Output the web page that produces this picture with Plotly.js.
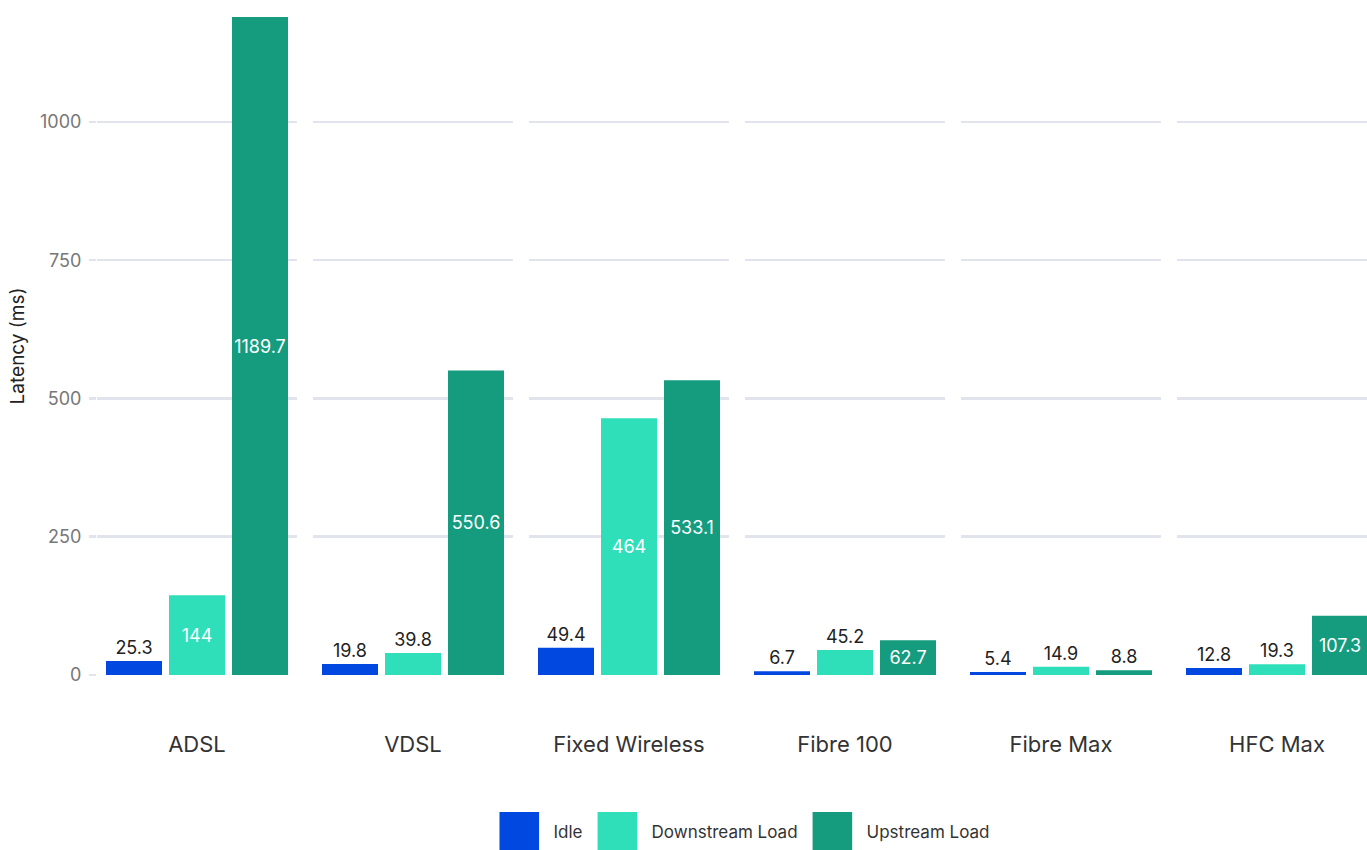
<!DOCTYPE html>
<html>
<head>
<meta charset="utf-8">
<script src="https://cdn.plot.ly/plotly-3.0.1.min.js"></script>
<style>html,body{margin:0;padding:0;background:#fff;}#chart{width:1367px;height:850px;}</style>
</head>
<body>
<div id="chart"></div>
<script>
const categories = ['ADSL', 'VDSL', 'Fixed Wireless', 'Fibre 100', 'Fibre Max', 'HFC Max'];
const seriesNames = ['Idle', 'Downstream Load', 'Upstream Load'];
const idle = [25.3, 19.8, 49.4, 6.7, 5.4, 12.8];
const downstream = [144, 39.8, 464, 45.2, 14.9, 19.3];
const upstream = [1189.7, 550.6, 533.1, 62.7, 8.8, 107.3];
const yTicks = [0, 250, 500, 750, 1000];
const yMax = 1189.7;

const seriesValues = [idle, downstream, upstream];
const seriesColors = ['#0048E0', '#2EDFBA', '#159C7E'];
const FONT = 'Inter, "Noto Sans", Roboto, sans-serif';

const W = 1367, H = 850;
const margin = {l: 97, r: 0, t: 17, b: 175};
const plotW = W - margin.l - margin.r;
const facetW = 200, facetStep = 216;

const traces = [];
const layout = {
  width: W, height: H,
  margin: margin,
  paper_bgcolor: '#ffffff', plot_bgcolor: '#ffffff',
  barmode: 'group', bargap: 0.055, bargroupgap: 0.111,
  font: {family: FONT, color: '#333'},
  showlegend: true,
  legend: {
    orientation: 'h', xref: 'container', yref: 'container',
    x: 0.544, xanchor: 'center', y: 0.021, yanchor: 'middle',
    font: {size: 17, color: '#333', family: FONT},
    bgcolor: 'rgba(0,0,0,0)',
    itemwidth: 30, traceorder: 'normal', itemclick: false, itemdoubleclick: false
  },
  yaxis: {
    range: [0, yMax], tickvals: yTicks, showgrid: true, gridcolor: '#E1E4EC', gridwidth: 2.5,
    zeroline: false, showline: false, ticks: 'outside', ticklen: 7, tickcolor: '#E1E4EC', tickwidth: 2.5,
    tickfont: {size: 18, color: '#777', family: FONT},
    ticklabelstandoff: 4,
    title: {text: 'Latency (ms)', font: {size: 19, color: '#222', family: FONT}, standoff: 10},
    anchor: 'x', fixedrange: true
  }
};

categories.forEach((cat, k) => {
  const axName = k === 0 ? 'x' : 'x' + (k + 1);
  const layoutKey = k === 0 ? 'xaxis' : 'xaxis' + (k + 1);
  const startPx = k * facetStep;
  let endPx = startPx + facetW;
  let rangeEnd = 0.5;
  if (endPx > plotW) {
    rangeEnd = 0.5 - (endPx - plotW) / facetW;
    endPx = plotW;
  }
  layout[layoutKey] = {
    domain: [startPx / plotW, endPx / plotW],
    anchor: 'y', type: 'category', categoryorder: 'array', categoryarray: [cat],
    range: [-0.5, rangeEnd],
    showgrid: false, zeroline: false, showline: false, ticks: '',
    tickfont: {size: 22, color: '#333', family: FONT},
    ticklabelstandoff: 54, fixedrange: true
  };
  seriesNames.forEach((name, s) => {
    const v = seriesValues[s][k];
    traces.push({
      type: 'bar', name: name, x: [cat], y: [v], xaxis: axName, yaxis: 'y',
      marker: {color: seriesColors[s], line: {width: 0}},
      text: [String(v)],
      textposition: [v > 55 ? 'inside' : 'outside'],
      insidetextanchor: 'middle',
      textangle: 0,
      constraintext: 'none',
      insidetextfont: {size: 18, color: '#ffffff', family: FONT},
      outsidetextfont: {size: 18, color: '#222', family: FONT},
      cliponaxis: false,
      hoverinfo: 'skip',
      legendgroup: name, showlegend: k === 0
    });
  });
});

Plotly.newPlot('chart', traces, layout, {displayModeBar: false, staticPlot: true}).then(gd => {
  gd.querySelectorAll('.legend .scrollbox').forEach(g => g.removeAttribute('clip-path'));
  const items = Array.from(gd.querySelectorAll('.legend .traces'));
  const sw = 40, gapText = 14, gapItem = 15, legendCenter = 744.5;
  const textW = items.map(g => g.querySelector('.legendtext').getBBox().width);
  const total = textW.reduce((a, w) => a + sw + gapText + w, 0) + gapItem * (items.length - 1);
  let cur = legendCenter - total / 2;
  items.forEach((g, i) => {
    const p = g.querySelector('.legendpoints path');
    p.setAttribute('transform', 'scale(3.3)');
    const pr = p.getBoundingClientRect();
    const dx = cur - pr.left;
    g.setAttribute('transform', (g.getAttribute('transform') || '') + ' translate(' + dx + ',0)');
    const t = g.querySelector('.legendtext');
    const tr = t.getBoundingClientRect();
    const want = cur + sw + gapText;
    t.setAttribute('x', parseFloat(t.getAttribute('x') || 0) + (want - tr.left));
    cur = want + textW[i] + gapItem;
  });
});
</script>
</body>
</html>
